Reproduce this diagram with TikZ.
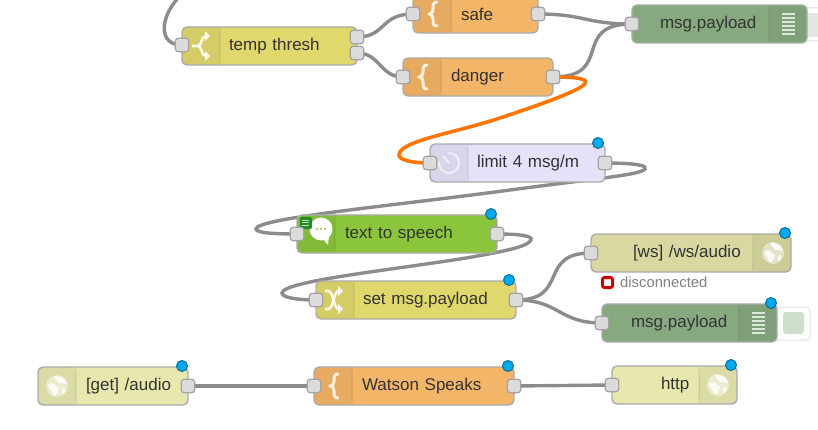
\documentclass[tikz,border=0pt]{standalone}
\usepackage{fontspec}
\setmainfont{Liberation Sans}
\usetikzlibrary{positioning, backgrounds}
\definecolor{orangenode}{HTML}{F3B567}
\definecolor{yellownode}{HTML}{E0D86D}
\definecolor{greennode}{HTML}{87A980}
\definecolor{lavendernode}{HTML}{E6E0F8}
\definecolor{speechnode}{HTML}{8BC53B}
\definecolor{socketnode}{HTML}{D8D8A0}
\definecolor{httpnode}{HTML}{E7E7AE}
\definecolor{dotfill}{HTML}{00A8EC}
\definecolor{dotline}{HTML}{0B6E9E}
\tikzset{
	flownode/.style={rectangle, rounded corners=5pt, draw=black!33, line width=1.4pt,
		minimum height=38pt, inner xsep=0pt, inner ysep=0pt, outer sep=0pt, align=left,
		text=black!80, font=\fontsize{17}{20}\selectfont},
	wide/.style={minimum width=#1, text width=#1},
	pad/.style={execute at begin node=\hspace*{#1}},
	iconleft/.style={path picture={
		\fill[black, opacity=0.05] (path picture bounding box.north west) rectangle ([xshift=38pt]path picture bounding box.south west);
		\draw[black, opacity=0.05] ([xshift=38pt]path picture bounding box.north west) -- ([xshift=38pt]path picture bounding box.south west);}},
	iconright/.style={path picture={
		\fill[black, opacity=0.05] (path picture bounding box.north east) rectangle ([xshift=-38pt]path picture bounding box.south east);
		\draw[black, opacity=0.05] ([xshift=-38pt]path picture bounding box.north east) -- ([xshift=-38pt]path picture bounding box.south east);}},
	port/.style={rectangle, rounded corners=3pt, draw=black!36, line width=1.2pt, fill=black!14,
		minimum size=13.5pt, inner sep=0pt, outer sep=0pt},
	badge/.style={circle, draw=dotline, line width=1pt, fill=dotfill,
		minimum size=11pt, inner sep=0pt},
	wire/.style={draw=black!45, line width=3.4pt},
	hotwire/.style={draw=orange!92!red, line width=3.6pt},
	bracepic/.pic={
		\draw[white, opacity=0.8, line width=3pt, line cap=round] (4,-12) .. controls (0,-12) and (0,-9) .. (0,-5)
			.. controls (0,-2) and (-1,-1) .. (-3.5,0) .. controls (-1,1) and (0,2) .. (0,5)
			.. controls (0,9) and (0,12) .. (4,12);},
	forkpic/.pic={
		\draw[white, opacity=0.85, line width=2.6pt] (-9,0) -- (-3,0) .. controls (1,0) and (0,-10) .. (5,-10);
		\draw[white, opacity=0.85, line width=2.6pt] (-3,0) .. controls (1,0) and (0,10) .. (5,10);
		\fill[white, opacity=0.85] (4,-15) -- (9,-10) -- (4,-5) -- cycle;
		\fill[white, opacity=0.85] (4,5) -- (9,10) -- (4,15) -- cycle;},
	shufflepic/.pic={
		\draw[white, opacity=0.85, line width=2.6pt] (-9,-9) -- (-6,-9) .. controls (0,-9) and (-1,9) .. (5,9);
		\draw[white, opacity=0.85, line width=2.6pt] (-9,9) -- (-6,9) .. controls (0,9) and (-1,-9) .. (5,-9);
		\fill[white, opacity=0.85] (4,-14) -- (9,-9) -- (4,-4) -- cycle;
		\fill[white, opacity=0.85] (4,4) -- (9,9) -- (4,14) -- cycle;},
	timerpic/.pic={
		\draw[white, opacity=0.6, line width=2pt] (-1.7,-9.8) arc[start angle=100, end angle=-190, radius=10pt];
		\draw[white, opacity=0.6, line width=2pt] (0,0) -- (-6,-7);},
	globepic/.pic={
		\fill[white, opacity=0.45] (0,0) circle[radius=11pt];
		\fill[white, opacity=0.85] (-3,-10) .. controls (3,-11) and (9,-7) .. (10,-2) .. controls (6,-2) and (4,-4) .. (2,-3)
			.. controls (1,-6) and (-2,-6) .. cycle;
		\fill[white, opacity=0.85] (-9,-1) .. controls (-6,-4) and (-2,-3) .. (-1,0) .. controls (2,1) and (3,3) .. (1,5)
			.. controls (0,9) and (-2,10) .. (-4,9) .. controls (-4,5) and (-8,4) .. cycle;
		\fill[white, opacity=0.85] (6,2) .. controls (9,2) and (9,5) .. (6,8) .. controls (4,6) and (4,4) .. cycle;},
	debugpic/.pic={
		\foreach \liney in {-10,-6,-2,2,6,10}
			\draw[white, opacity=0.75, line width=1.8pt] (-6.5,\liney) -- (6.5,\liney);},
	bubblepic/.pic={
		\fill[white] (0,0) circle[radius=11.5pt];
		\fill[white] (1,9) -- (7,16) -- (8,6) -- cycle;
		\foreach \dotx in {-4,0,4}
			\fill[speechnode] (\dotx,0) circle[radius=1.1pt];},
}
\begin{document}
\begin{tikzpicture}[
			x = 1pt, % one unit is one pixel of the screenshot
			y = -1pt, % y runs downwards
		]
		\clip (0,0) rectangle (818,430);
		% buttons behind the debug nodes
		\node[rectangle, rounded corners=4pt, draw=black!12, line width=1pt, fill=white, minimum width=60pt, minimum height=33pt, inner sep=0pt] (debugtop-btn) at (820,24.5) {};
		\node[rectangle, fill=greennode!25, minimum width=40pt, minimum height=24pt, inner sep=0pt] (debugtop-fill) at (827,25) {};
		\node[rectangle, rounded corners=4pt, draw=black!12, line width=1pt, fill=white, minimum width=50pt, minimum height=33pt, inner sep=0pt] (debugbot-btn) at (785,323.5) {};
		\node[rectangle, rounded corners=3pt, fill=greennode!40, minimum width=21pt, minimum height=22pt, inner sep=0pt] (debugbot-fill) at (793.5,323) {};
		% nodes
		\node[flownode, wide=175pt, pad=47pt, fill=yellownode, iconleft] (thresh) at (269.5,46) {temp thresh};
		\node[flownode, wide=125pt, pad=48pt, fill=orangenode, iconleft] (safe) at (475.5,14) {safe};
		\node[flownode, wide=150pt, pad=48pt, fill=orangenode, iconleft] (danger) at (478,77) {danger};
		\node[flownode, wide=175pt, pad=28pt, fill=greennode, iconright] (debugtop) at (719.5,24) {msg.payload};
		\node[flownode, wide=175pt, pad=47pt, fill=lavendernode, iconleft] (limit) at (517.5,163) {limit 4 msg/m};
		\node[flownode, wide=200pt, pad=48pt, fill=speechnode, iconleft] (speech) at (397,234) {text to speech};
		\node[flownode, wide=200pt, pad=47pt, fill=yellownode, iconleft] (setmsg) at (416,300) {set msg.payload};
		\node[flownode, wide=200pt, pad=42pt, fill=socketnode, iconright] (socket) at (691,253) {[ws] /ws/audio};
		\node[flownode, wide=175pt, pad=29pt, fill=greennode, iconright] (debugbot) at (689.5,323) {msg.payload};
		\node[flownode, wide=150pt, pad=48pt, fill=httpnode, iconleft] (getaudio) at (113,386) {[get] /audio};
		\node[flownode, wide=200pt, pad=48pt, fill=orangenode, iconleft] (watson) at (414,386) {Watson Speaks};
		\node[flownode, wide=125pt, pad=49pt, fill=httpnode, iconright] (http) at (674.5,385) {http};
		% icons
		\pic at (201,46) {forkpic};
		\pic at (433,14) {bracepic};
		\pic at (423,77) {bracepic};
		\pic at (334,386) {bracepic};
		\pic at (788.5,24) {debugpic};
		\pic at (758.5,323) {debugpic};
		\pic at (449,163) {timerpic};
		\pic at (321,229) {bubblepic};
		\pic at (334,300) {shufflepic};
		\pic at (773,253) {globepic};
		\pic at (57,386) {globepic};
		\pic at (718,385) {globepic};
		% watson mark on the speech node
		\node[rectangle, rounded corners=2pt, fill=green!45!black!85, minimum size=12pt, inner sep=0pt] (speech-mark) at (306,223) {};
		\foreach \liney in {220.5,223,225.5}
			\draw[white, opacity=0.7, line width=1pt] (302,\liney) -- (309,\liney);
		% ports
		\node[port] (thresh-in) at (182,45) {};
		\node[port] (thresh-a) at (357,37) {};
		\node[port] (thresh-b) at (357,53) {};
		\node[port] (safe-in) at (413,14) {};
		\node[port] (safe-out) at (538,14) {};
		\node[port] (danger-in) at (403,77) {};
		\node[port] (danger-out) at (553,77) {};
		\node[port] (debugtop-in) at (632,24) {};
		\node[port] (limit-in) at (430,163) {};
		\node[port] (limit-out) at (605,163) {};
		\node[port] (speech-in) at (297,234) {};
		\node[port] (speech-out) at (497,234) {};
		\node[port] (setmsg-in) at (316,300) {};
		\node[port] (setmsg-out) at (516,300) {};
		\node[port] (socket-in) at (591,253) {};
		\node[port] (debugbot-in) at (602,323) {};
		\node[port] (getaudio-out) at (188,386) {};
		\node[port] (watson-in) at (314,386) {};
		\node[port] (watson-out) at (514,386) {};
		\node[port] (http-in) at (612,385) {};
		% changed markers
		\node[badge] (limit-dot) at (598,143) {};
		\node[badge] (speech-dot) at (491,214) {};
		\node[badge] (setmsg-dot) at (509,280) {};
		\node[badge] (socket-dot) at (785,233) {};
		\node[badge] (debugbot-dot) at (771,303) {};
		\node[badge] (getaudio-dot) at (182,366) {};
		\node[badge] (watson-dot) at (508,366) {};
		\node[badge] (http-dot) at (731,365) {};
		% status
		\node[rectangle, rounded corners=2pt, draw=red!80!black, line width=3pt, fill=white, minimum size=10pt, inner sep=0pt] (socket-led) at (607.5,282.5) {};
		\node[right=6pt of socket-led, inner sep=0pt, text=black!50, font=\fontsize{14.8}{17}\selectfont] (socket-status) {disconnected};
		% wires
		\coordinate (offpage) at (178,-2);
		\begin{scope}[on background layer]
			\draw[wire] (offpage) .. controls (160,18) and (158,45) .. (thresh-in.center);
			\draw[wire] (thresh-a.center) .. controls (386,37) and (380,14) .. (safe-in.center);
			\draw[wire] (thresh-b.center) .. controls (380,53) and (380,77) .. (danger-in.center);
			\draw[wire] (safe-out.center) .. controls (585,14) and (585,24) .. (debugtop-in.center);
			\draw[wire] (danger-out.center) .. controls (615,77) and (570,24) .. (debugtop-in.center);
			\draw[hotwire] (danger-out.center) .. controls (605,77) and (600,85) .. (500,118)
				.. controls (455,133) and (399,141) .. (399,155)
				.. controls (399,160) and (412,163) .. (limit-in.center);
			\draw[wire] (limit-out.center) .. controls (638,163) and (648,166) .. (645,169)
				.. controls (640,175) and (600,178) .. (510,190)
				.. controls (400,205) and (256,218) .. (256,229)
				.. controls (256,233) and (275,234) .. (speech-in.center);
			\draw[wire] (speech-out.center) .. controls (520,234) and (533,236) .. (531,240)
				.. controls (528,246) and (510,250) .. (483,255)
				.. controls (420,267) and (282,280) .. (282,293)
				.. controls (282,298) and (300,300) .. (setmsg-in.center);
			\draw[wire] (setmsg-out.center) .. controls (570,300) and (537,253) .. (socket-in.center);
			\draw[wire] (setmsg-out.center) .. controls (560,300) and (558,323) .. (debugbot-in.center);
			\draw[wire] (getaudio-out) -- (watson-in);
			\draw[wire] (watson-out) -- (http-in);
		\end{scope}
		\end{tikzpicture}
\end{document}
